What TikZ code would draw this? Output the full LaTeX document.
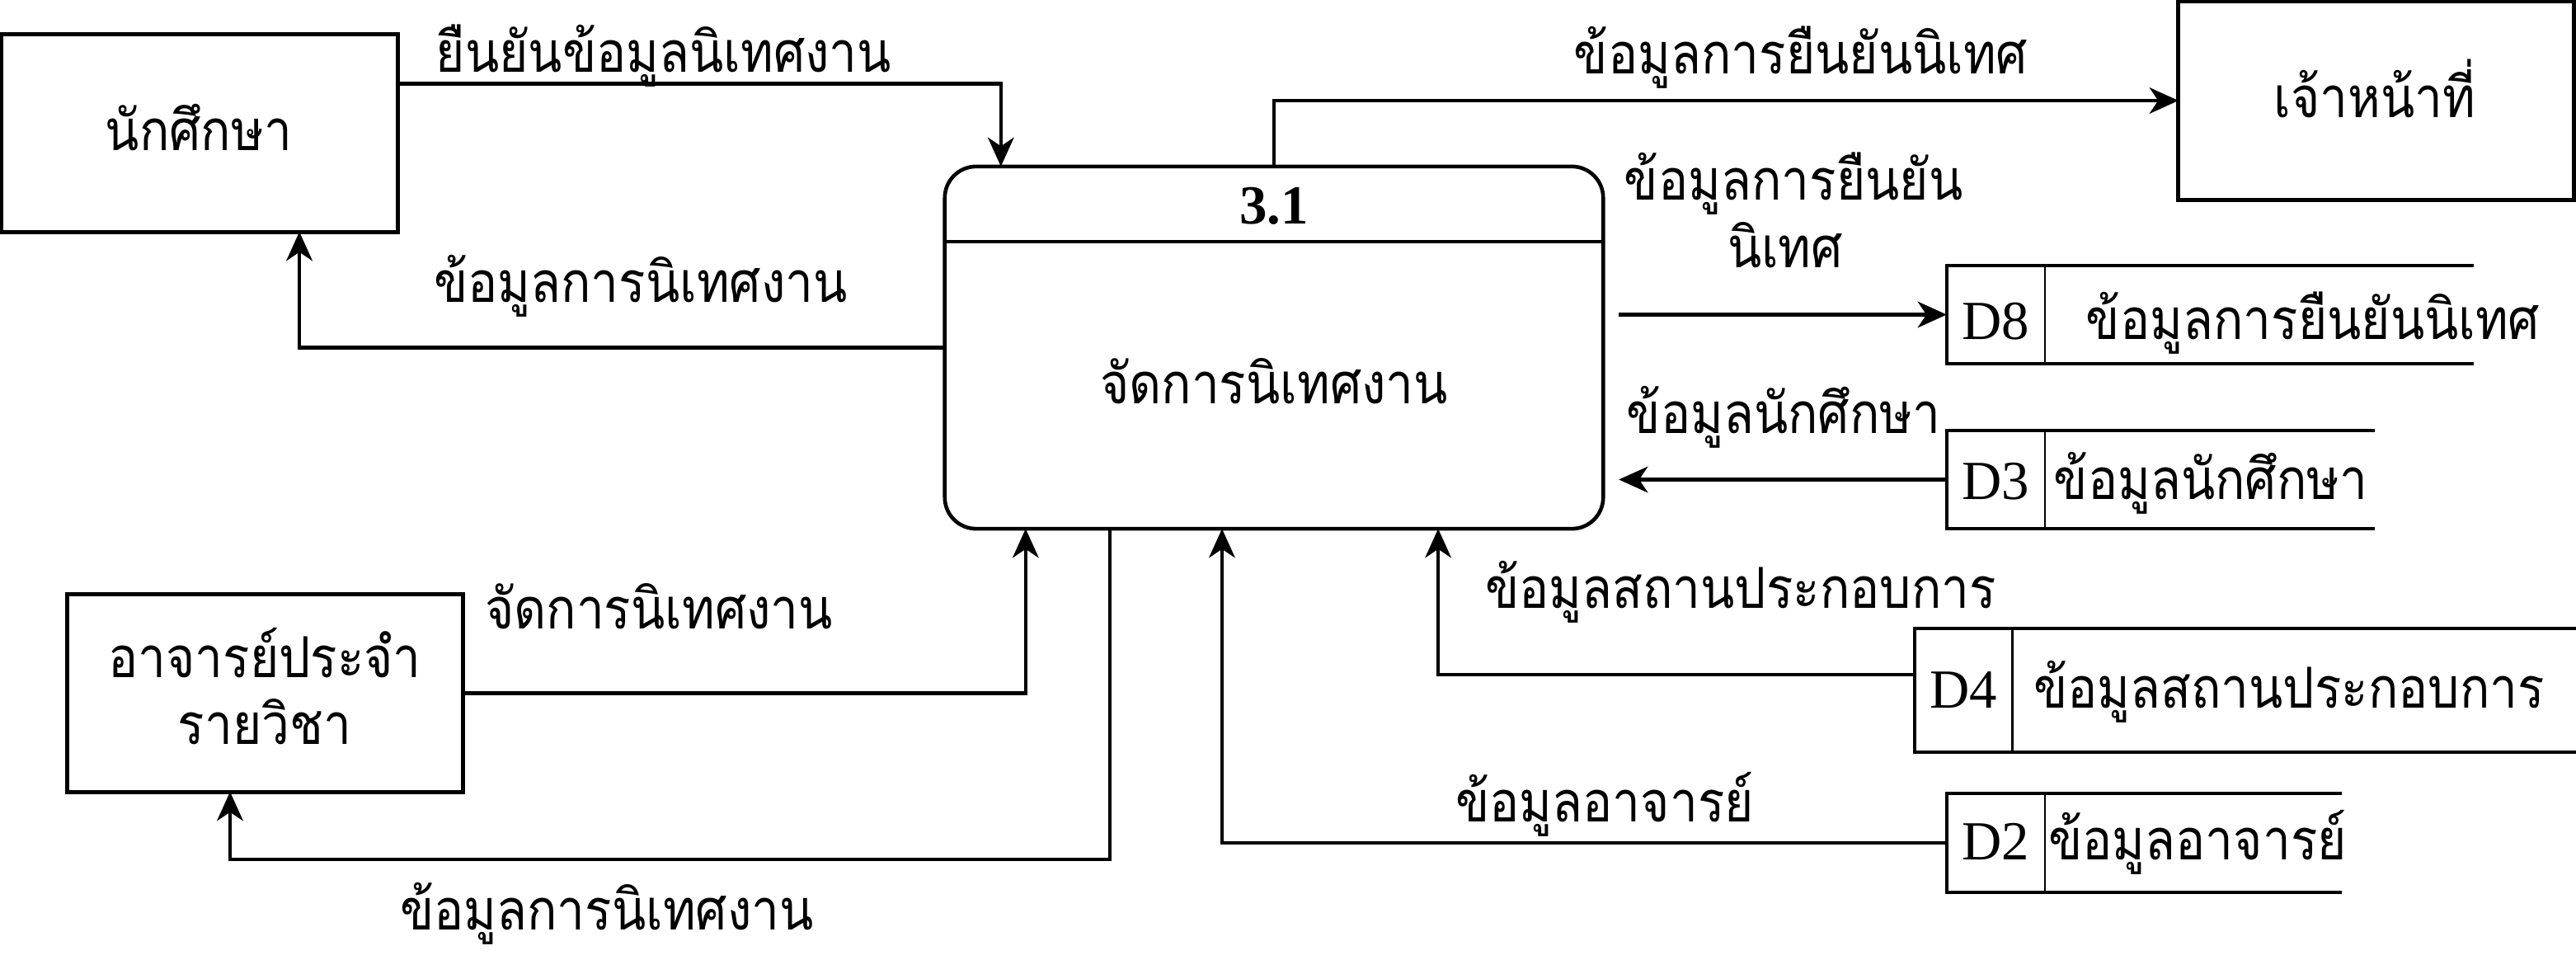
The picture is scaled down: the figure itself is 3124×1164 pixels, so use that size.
\documentclass[tikz,border=0pt]{standalone}
\usepackage{fontspec}
\setmainfont{Liberation Serif}
\newfontfamily\thai[Script=Thai,FakeStretch=0.88]{Loma}
\usetikzlibrary{arrows.meta,calc}
\begin{document}
\begin{tikzpicture}[x=0.01cm,y=-0.01cm,
  box/.style={draw,line width=1.4pt,inner sep=0pt,outer sep=0pt},
  store/.style={inner sep=0pt,outer sep=0pt},
  arr/.style={line width=1.2pt,-{Stealth[length=10pt,width=9pt,inset=3pt]}},
  sline/.style={line width=1.3pt},
  dline/.style={line width=0.8pt},
  th/.style={font=\thai\fontsize{19.5}{23}\selectfont,inner sep=0pt,anchor=base},
  lat/.style={font=\fontsize{19}{23}\selectfont,inner sep=0pt,anchor=base},
  ]
\fill[white] (0,0) rectangle (3124,1164);
\useasboundingbox (0,0) rectangle (3124,1164);

% external entities
\node[box,minimum width=4.80cm,minimum height=2.39cm] (stu) at (242,161.5) {};
\node[box,minimum width=4.79cm,minimum height=2.40cm] (off) at (2881.5,122) {};
\node[box,minimum width=4.79cm,minimum height=2.39cm] (lec) at (321.5,840.5) {};
\node[th] (stut) at (241,183) {นักศึกษา};
\node[th] (offt) at (2880,143) {เจ้าหน้าที่};
\node[th] (lect1) at (321,821) {อาจารย์ประจำ};
\node[th] (lect2) at (321,902) {รายวิชา};

% process
\node[draw,line width=1.3pt,rounded corners=0.38cm,minimum width=7.98cm,minimum height=4.39cm,inner sep=0pt,outer sep=0pt] (proc) at (1545,421.5) {};
\draw[sline] ([yshift=-0.91cm]proc.north west) -- ([yshift=-0.91cm]proc.north east);
\node[lat,font=\bfseries\fontsize{19}{23}\selectfont] (pid) at (1545,272) {3.1};
\node[th] (pname) at (1545,490) {จัดการนิเทศงาน};

% data stores
\node[store,minimum width=6.39cm,minimum height=1.19cm] (d8) at (2680.5,381.5) {};
\node[store,minimum width=5.19cm,minimum height=1.19cm] (d3) at (2620.5,581.5) {};
\node[store,minimum width=8.02cm,minimum height=1.50cm] (d4) at (2723,837) {};
\node[store,minimum width=4.79cm,minimum height=1.20cm] (d2) at (2600.5,1022) {};
\foreach \s/\w in {d8/1.19cm,d3/1.19cm,d4/1.19cm,d2/1.19cm}{
  \draw[sline] (\s.north east) -- (\s.north west) -- (\s.south west) -- (\s.south east);
  \draw[dline] ([xshift=\w]\s.north west) -- ([xshift=\w]\s.south west);
}
\node[lat] (d8i) at (2420,412) {D8};
\node[th] (d8t) at (2805,412) {ข้อมูลการยืนยันนิเทศ};
\node[lat] (d3i) at (2420,605) {D3};
\node[th] (d3t) at (2681,605) {ข้อมูลนักศึกษา};
\node[lat] (d4i) at (2381,858) {D4};
\node[th] (d4t) at (2776,858) {ข้อมูลสถานประกอบการ};
\node[lat] (d2i) at (2420,1042) {D2};
\node[th] (d2t) at (2665,1042) {ข้อมูลอาจารย์};

% connectors
\draw[arr] ([yshift=0.6cm]stu.east) -| ([xshift=-3.31cm]proc.north);
\draw[arr] (proc.west) -| ([xshift=1.21cm]stu.south);
\draw[arr] (proc.north) |- (off.west);
\draw[arr] ($(proc.east |- d8.west)+(0.19cm,0)$) -- (d8.west);
\draw[arr] (d3.west) -- ($(proc.east |- d3.west)+(0.19cm,0)$);
\draw[arr] ([yshift=0.19cm]d4.west) -| ([xshift=1.99cm]proc.south);
\draw[arr] (d2.west) -| ([xshift=-0.63cm]proc.south);
\draw[arr] (lec.east) -| ([xshift=-3.01cm]proc.south);
\coordinate (lb) at (279,1042);
\draw[arr] ([xshift=-1.99cm]proc.south) |- (lb) -- (lb |- lec.south);

% flow labels
\node[th] (l1) at (805,88) {ยืนยันข้อมูลนิเทศงาน};
\node[th] (l2) at (777,367) {ข้อมูลการนิเทศงาน};
\node[th] (l3) at (2184,90) {ข้อมูลการยืนยันนิเทศ};
\node[th] (l4a) at (2175,243) {ข้อมูลการยืนยัน};
\node[th] (l4b) at (2165,325) {นิเทศ};
\node[th] (l5) at (2163,525) {ข้อมูลนักศึกษา};
\node[th] (l6) at (2111,737) {ข้อมูลสถานประกอบการ};
\node[th] (l7) at (1946,996) {ข้อมูลอาจารย์};
\node[th] (l8) at (799,762) {จัดการนิเทศงาน};
\node[th] (l9) at (736,1127) {ข้อมูลการนิเทศงาน};
\end{tikzpicture}
\end{document}
